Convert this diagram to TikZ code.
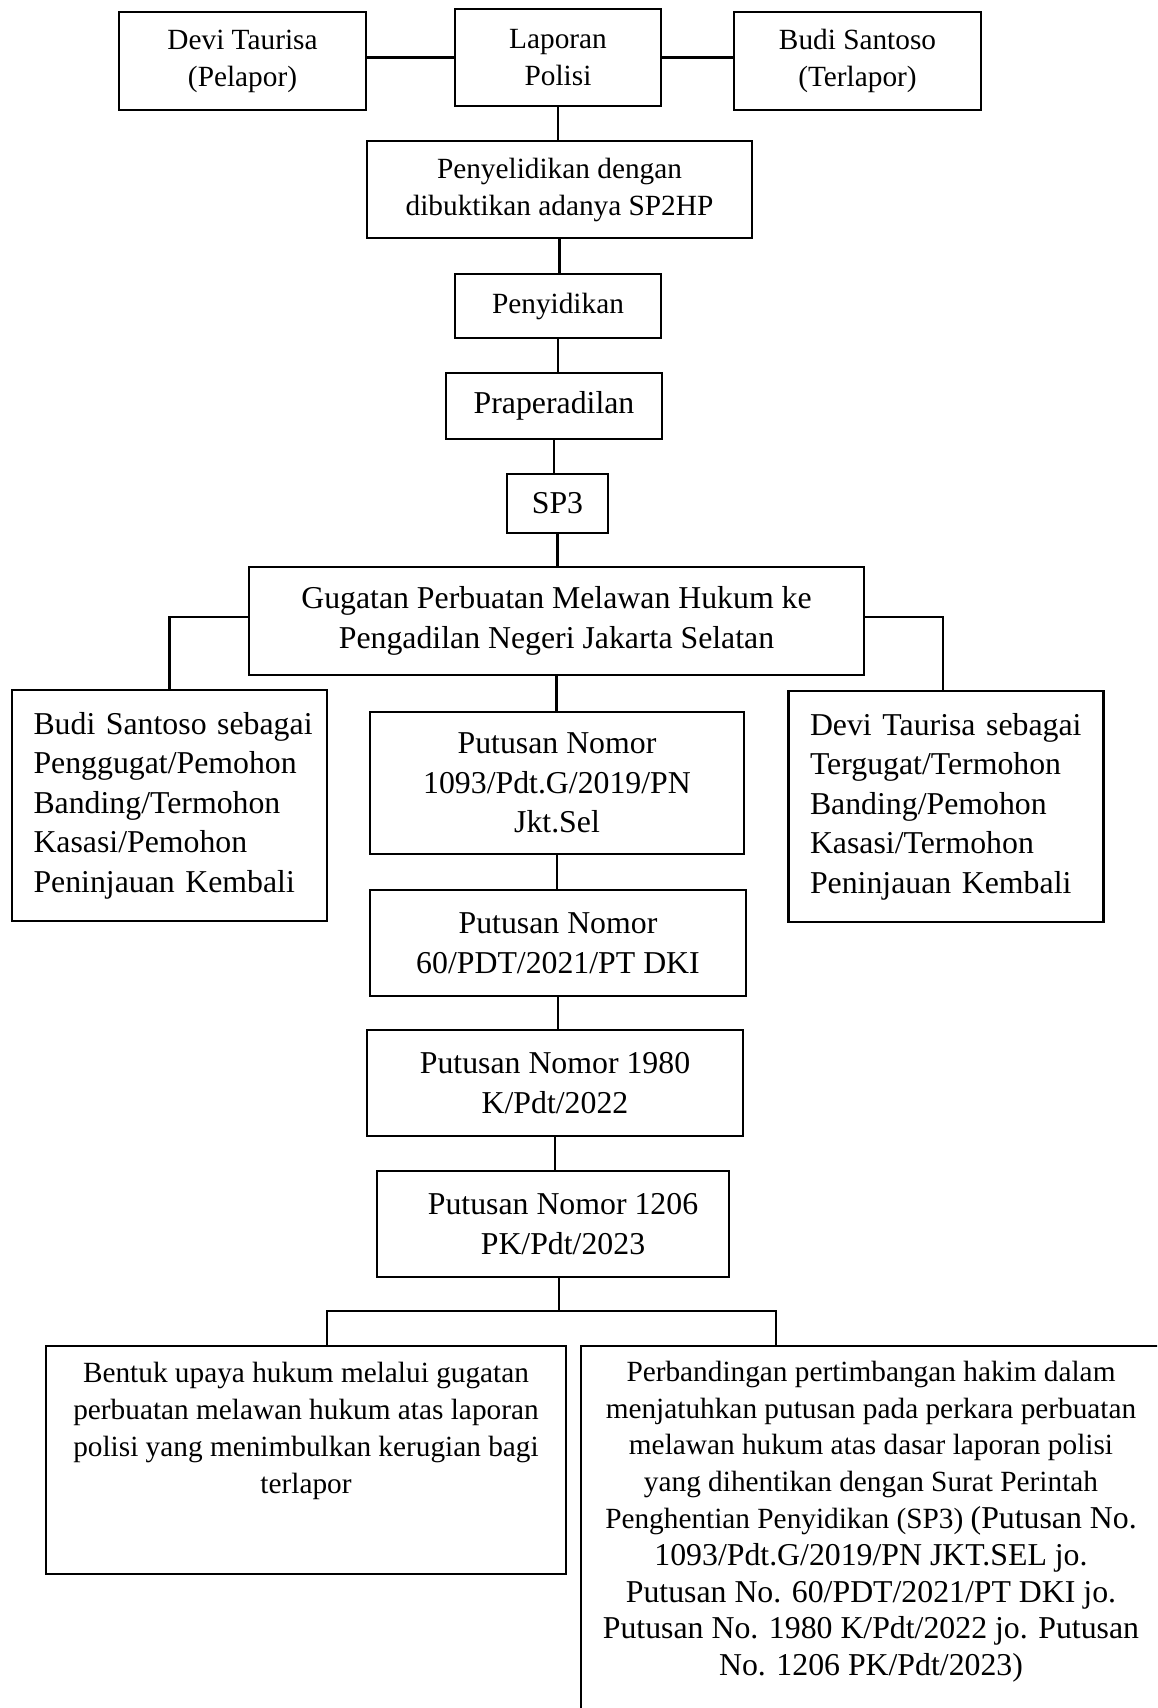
\documentclass[tikz,border=0pt]{standalone}
\usepackage{fontspec}
\setmainfont{Liberation Serif}
\usepackage{tikz}
\usetikzlibrary{positioning, calc}
\newcommand{\besar}{\fontsize{31.8}{36.8}\selectfont}
\tikzset{
    base/.style={
        rectangle,
        draw=black,
        line width=2.4pt,
        fill=white,
        text=black,
        inner sep=0pt,
        align=center
    },
    stage/.style={
        base,
        font=\fontsize{29.3}{37}\selectfont
    },
    verdict/.style={
        base,
        font=\fontsize{31.8}{39.5}\selectfont
    },
    party/.style={
        verdict,
        align=left,
        text width=272pt,
        inner xsep=21.5pt
    },
    note/.style={
        font=\fontsize{29.3}{36.8}\selectfont,
        align=center,
        inner sep=0pt
    },
    link/.style={
        line width=2.2pt,
        color=black
    }
}

\begin{document}
\begin{tikzpicture}[x=1pt, y=-1pt]
  \useasboundingbox (0,0) rectangle (1157,1708);
  \clip (0,0) rectangle (1157,1708);
  \fill[white] (0,0) rectangle (1157,1708);

  % Police report
  \node[stage, minimum width=247pt, minimum height=98pt] (pelapor) at (242.5,61) {Devi Taurisa\\(Pelapor)};
  \node[stage, minimum width=206pt, minimum height=97pt] (laporan) at (558,57.5) {Laporan\\Polisi};
  \node[stage, minimum width=247pt, minimum height=98pt] (terlapor) at (857.5,61) {Budi Santoso\\(Terlapor)};
  \node[stage, minimum width=385pt, minimum height=97pt] (lidik) at (559.5,189.5) {Penyelidikan dengan\\dibuktikan adanya SP2HP};
  \node[stage, minimum width=206pt, minimum height=64pt] (sidik) at (558,306) {Penyidikan};
  \node[verdict, minimum width=216pt, minimum height=66pt] (praper) at (554,406) {Praperadilan};
  \node[verdict, minimum width=101pt, minimum height=59pt] (sptiga) at (557.5,503.5) {SP3};

  % Civil suit and parties
  \node[verdict, minimum width=615pt, minimum height=108pt] (gugatan) at (556.5,621) {Gugatan Perbuatan Melawan Hukum ke\\Pengadilan Negeri Jakarta Selatan};
  \node[party, minimum height=231pt] (penggugat) at (169.5,805.5) {\makebox[272pt][s]{Budi Santoso sebagai}\\Penggugat/Pemohon\\Banding/Termohon\\Kasasi/Pemohon\\Peninjauan Kembali};
  \node[party, minimum height=231pt] (tergugat) at (946,806.5) {\makebox[272pt][s]{Devi Taurisa sebagai}\\Tergugat/Termohon\\Banding/Pemohon\\Kasasi/Termohon\\Peninjauan Kembali};

  % Court rulings
  \node[verdict, minimum width=374pt, minimum height=142pt] (pn) at (557,783) {Putusan Nomor\\1093/Pdt.G/2019/PN\\Jkt.Sel};
  \node[verdict, minimum width=376pt, minimum height=106pt] (pt) at (558,943) {Putusan Nomor\\60/PDT/2021/PT DKI};
  \node[verdict, minimum width=376pt, minimum height=106pt] (ma) at (555,1083) {Putusan Nomor 1980\\K/Pdt/2022};
  \node[verdict, minimum width=352pt, minimum height=106pt] (pk) at (553,1224) {\hspace*{20pt}Putusan Nomor 1206\\\hspace*{20pt}PK/Pdt/2023};

  % Research questions
  \node[base, minimum width=520pt, minimum height=228pt] (bentuk) at (306,1460) {};
  \node[note, below=17.5pt of bentuk.north] (bentukteks) {Bentuk upaya hukum melalui gugatan\\perbuatan melawan hukum atas laporan\\polisi yang menimbulkan kerugian bagi\\terlapor};
  \node[base, minimum width=580pt, minimum height=400pt] (hakim) at (871,1546) {};
  \node[note, below=16pt of hakim.north] (hakimteks) {Perbandingan pertimbangan hakim dalam\\menjatuhkan putusan pada perkara perbuatan\\melawan hukum atas dasar laporan polisi\\yang dihentikan dengan Surat Perintah\\Penghentian Penyidikan (SP3) {\besar(Putusan No.}\\{\besar 1093/Pdt.G/2019/PN JKT.SEL jo.}\\{\besar Putusan No. 60/PDT/2021/PT DKI jo.}\\{\besar Putusan No. 1980 K/Pdt/2022 jo. Putusan}\\{\besar No. 1206 PK/Pdt/2023)}};

  % Connectors
  \draw[link] (pelapor.east |- laporan.west) -- (laporan.west);
  \draw[link] (laporan.east) -- (laporan.east -| terlapor.west);
  \draw[link] (laporan.south) -- (laporan.south |- lidik.north);
  \draw[link] (lidik.south) -- (lidik.south |- sidik.north);
  \draw[link] (sidik.south) -- (sidik.south |- praper.north);
  \draw[link] (praper.south) -- (praper.south |- sptiga.north);
  \draw[link] (sptiga.south) -- (sptiga.south |- gugatan.north);
  \draw[link] ([yshift=4pt]gugatan.west) -| (penggugat.north);
  \draw[link] ([yshift=4pt]gugatan.east) -| ([xshift=-3pt]tergugat.north);
  \draw[link] (gugatan.south) -- (gugatan.south |- pn.north);
  \draw[link] (pn.south) -- (pn.south |- pt.north);
  \draw[link] (pt.south) -- (pt.south |- ma.north);
  \draw[link] (ma.south) -- (ma.south |- pk.north);

  \coordinate (cabang) at (559,1311);
  \coordinate (cabangkiri) at (327,1311);
  \coordinate (cabangkanan) at (776,1311);
  \draw[link] (cabang) -- (cabang |- pk.south);
  \draw[link] (cabangkiri |- bentuk.north) -- (cabangkiri) -- (cabangkanan) -- (cabangkanan |- hakim.north);
\end{tikzpicture}
\end{document}
